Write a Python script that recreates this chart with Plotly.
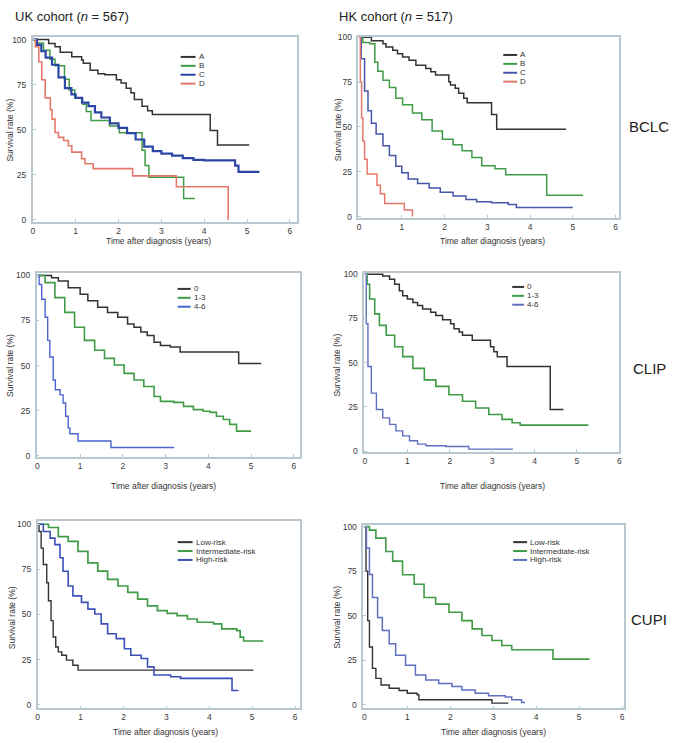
import plotly.graph_objects as go

W, H = 674, 743
FONT = "Liberation Sans, Arial, sans-serif"

# ---------------- data ----------------
# UK cohort, BCLC
uk_bclc_a_t = [0, 0.37, 0.52, 0.64, 0.91, 1.14, 1.18, 1.34, 1.52, 1.68, 1.95, 2.06, 2.18, 2.29, 2.37, 2.55, 2.68, 2.79, 4.14, 4.31, 5.05]
uk_bclc_a_s = [100, 97.8, 96, 93, 90.5, 88.7, 86.8, 83, 81, 80.4, 77.7, 75.9, 73, 70.4, 66.7, 63, 60.5, 58.4, 49.5, 41.5, 41.5]
uk_bclc_b_t = [0, 0.1, 0.25, 0.4, 0.52, 0.74, 0.85, 0.98, 1.16, 1.25, 1.36, 1.79, 2.02, 2.55, 2.62, 2.71, 3.52, 3.78]
uk_bclc_b_s = [100, 98, 94, 89, 85.5, 78, 72, 67.6, 64, 60, 55, 52, 48.3, 38.5, 30, 23.6, 11.7, 11.7]
uk_bclc_c_t = [0, 0.1, 0.2, 0.3, 0.45, 0.6, 0.75, 0.9, 1.0, 1.15, 1.3, 1.45, 1.6, 1.8, 2.0, 2.2, 2.4, 2.6, 2.8, 3.0, 3.25, 3.5, 3.75, 4.0, 4.68, 4.72, 4.8, 5.29]
uk_bclc_c_s = [100, 97, 93.5, 90, 86, 79, 73, 69.5, 67.6, 65, 63, 59.5, 56.7, 53.5, 51, 48, 44.5, 40.5, 38, 36.6, 35.5, 34.2, 33.2, 32.9, 32.9, 30, 26.5, 26.5]
uk_bclc_d_t = [0, 0.06, 0.14, 0.21, 0.29, 0.41, 0.45, 0.52, 0.6, 0.72, 0.83, 0.91, 1.14, 1.22, 1.41, 2.33, 3.35, 4.56, 4.56]
uk_bclc_d_s = [100, 96, 87.7, 77.7, 67.6, 61, 55.8, 48.4, 45.7, 43.9, 41, 37.5, 33.8, 31, 28.3, 24.3, 18.3, 18.3, 0]

# HK cohort, BCLC
hk_bclc_a_t = [0, 0.29, 0.56, 0.63, 0.79, 0.9, 1.02, 1.17, 1.33, 1.56, 1.68, 1.79, 2.1, 2.14, 2.25, 2.33, 2.45, 2.53, 3.1, 3.22, 4.84]
hk_bclc_a_s = [100, 98, 96.3, 94.5, 92.7, 90.8, 89, 87.2, 84.4, 82.6, 80.7, 78.9, 75.2, 73.4, 71.6, 68.8, 66, 63.5, 56.9, 48.7, 48.7]
hk_bclc_b_t = [0, 0.09, 0.25, 0.37, 0.44, 0.56, 0.71, 0.86, 1.02, 1.25, 1.47, 1.71, 1.95, 2.2, 2.41, 2.64, 2.87, 3.18, 3.43, 4.39, 5.24]
hk_bclc_b_s = [100, 97, 96.3, 86, 81, 76, 72, 66, 62.4, 57.8, 54, 47.7, 43.1, 40, 36.7, 33, 28.4, 26.6, 23.3, 11.9, 11.9]
hk_bclc_c_t = [0, 0.05, 0.13, 0.21, 0.29, 0.4, 0.56, 0.71, 0.86, 1.0, 1.15, 1.37, 1.64, 1.9, 2.2, 2.5, 2.75, 3.1, 3.49, 3.68, 5.0]
hk_bclc_c_s = [100, 88, 70, 59, 52, 46, 39.5, 34, 28, 24.5, 21, 18.5, 16, 13.5, 11.5, 9.5, 8.3, 7.7, 6.8, 5, 5]
hk_bclc_d_t = [0, 0.03, 0.06, 0.09, 0.13, 0.19, 0.42, 0.5, 0.6, 1.06, 1.25]
hk_bclc_d_s = [100, 75, 55, 42, 32, 23.8, 17.4, 12.8, 7.3, 3.7, 0]

# UK cohort, CLIP
uk_clip_0_t = [0, 0.33, 0.49, 0.72, 1.0, 1.18, 1.41, 1.64, 1.88, 2.11, 2.26, 2.42, 2.57, 2.73, 2.88, 3.11, 3.34, 4.71, 5.24]
uk_clip_0_s = [100, 98.7, 96.9, 93.2, 89.6, 85.9, 82.3, 79.5, 76.8, 73.1, 71.3, 68.6, 66.7, 63, 61.2, 60.3, 57.6, 51.2, 51.2]
uk_clip_13_t = [0, 0.18, 0.41, 0.64, 0.87, 1.1, 1.34, 1.57, 1.8, 2.03, 2.26, 2.49, 2.73, 2.88, 3.19, 3.42, 3.65, 3.88, 4.04, 4.19, 4.35, 4.5, 4.66, 5.0]
uk_clip_13_s = [100, 96, 87.7, 79.5, 71.3, 64, 58.5, 54, 50.3, 45.7, 42, 38.4, 32.9, 30.2, 29.6, 27.4, 25.6, 24.7, 24.1, 21.9, 20.1, 17.4, 13.7, 13.7]
uk_clip_46_t = [0, 0.04, 0.1, 0.18, 0.24, 0.29, 0.37, 0.42, 0.53, 0.6, 0.66, 0.72, 0.76, 0.95, 1.72, 3.2]
uk_clip_46_s = [100, 95, 86.8, 76.8, 64, 54.8, 42, 36.6, 33.8, 29.3, 21.9, 15.5, 12.2, 8.2, 4.6, 4.6]

# HK cohort, CLIP
hk_clip_0_t = [0, 0.42, 0.58, 0.7, 0.81, 0.89, 1.0, 1.13, 1.24, 1.36, 1.55, 1.67, 1.83, 2.02, 2.1, 2.22, 2.3, 2.53, 2.96, 3.04, 3.12, 3.35, 4.37, 4.68]
hk_clip_0_s = [100, 99, 97.2, 94.4, 90.7, 87.9, 86, 84.1, 82.3, 80.4, 78.5, 76.7, 74.3, 72, 69.2, 67.4, 65.5, 62.7, 59, 56.2, 53.4, 47.8, 23.5, 23.5]
hk_clip_13_t = [0, 0.05, 0.11, 0.23, 0.34, 0.5, 0.7, 0.89, 1.13, 1.4, 1.67, 1.98, 2.3, 2.61, 2.92, 3.23, 3.47, 3.66, 5.27]
hk_clip_13_s = [100, 94.4, 86, 77.6, 71.1, 65.5, 59, 53.4, 46.8, 40.3, 36.6, 31.9, 28.2, 24.4, 20.7, 17.9, 16, 14.7, 14.7]
hk_clip_46_t = [0, 0.03, 0.07, 0.15, 0.27, 0.42, 0.58, 0.73, 0.89, 1.05, 1.24, 1.44, 1.91, 2.45, 3.49]
hk_clip_46_s = [100, 72, 47.8, 32.8, 23.5, 18.8, 15.1, 11.4, 8.6, 5.8, 3.9, 3, 2.6, 1.1, 1.1]

# UK cohort, CUPI
uk_cupi_low_t = [0, 0.03, 0.08, 0.13, 0.21, 0.25, 0.31, 0.36, 0.42, 0.48, 0.56, 0.67, 0.82, 0.94, 5.03]
uk_cupi_low_s = [100, 96, 86.8, 77.7, 67.6, 57.6, 46.6, 37.5, 32, 29.3, 27.4, 24.7, 21.9, 19.2, 19.2]
uk_cupi_int_t = [0, 0.25, 0.48, 0.71, 0.94, 1.17, 1.4, 1.63, 1.87, 2.1, 2.33, 2.56, 2.79, 3.02, 3.25, 3.49, 3.72, 4.1, 4.29, 4.64, 4.72, 4.8, 5.26]
uk_cupi_int_s = [100, 98.2, 93.2, 90.5, 85, 78.6, 74, 69.5, 65.8, 62.2, 58.5, 54.8, 52.1, 50.6, 49.4, 47.5, 45.7, 44.8, 42, 41.1, 37.5, 35.3, 35.3]
uk_cupi_high_t = [0, 0.13, 0.29, 0.4, 0.52, 0.59, 0.71, 0.82, 1.02, 1.17, 1.33, 1.48, 1.63, 1.83, 2.02, 2.17, 2.41, 2.56, 2.71, 3.1, 3.33, 4.53, 4.68]
uk_cupi_high_s = [100, 96, 92.3, 88.7, 81.4, 74, 65.8, 60.3, 56.7, 53, 50.3, 44.8, 39.3, 36.6, 31, 27.4, 25.6, 21, 16.5, 15.5, 14.6, 7.9, 7.9]

# HK cohort, CUPI
hk_cupi_low_t = [0, 0.04, 0.08, 0.12, 0.19, 0.27, 0.39, 0.58, 0.81, 1.0, 1.23, 1.27, 2.97, 3.35]
hk_cupi_low_s = [100, 75, 47.2, 32.4, 20.4, 14.8, 11.1, 9.3, 8, 6.5, 5.6, 2.8, 0.9, 0.9]
hk_cupi_int_t = [0, 0.12, 0.27, 0.5, 0.66, 0.89, 1.16, 1.39, 1.66, 1.97, 2.27, 2.51, 2.74, 2.97, 3.2, 3.43, 4.39, 5.24]
hk_cupi_int_s = [100, 98, 93.5, 86, 80.6, 73, 67.6, 60.2, 56.5, 51.9, 47.2, 42.6, 38.9, 36.1, 33.3, 30.9, 25.6, 25.6]
hk_cupi_high_t = [0, 0.05, 0.12, 0.19, 0.31, 0.42, 0.58, 0.73, 0.96, 1.19, 1.43, 1.73, 2.04, 2.27, 2.58, 2.89, 3.28, 3.43, 3.66, 3.74]
hk_cupi_high_s = [100, 88, 73.1, 60.2, 49, 41.7, 34.3, 27.8, 22.2, 16.7, 13.9, 12, 10.2, 8.3, 6.5, 5, 4.3, 2.8, 1.3, 1.3]

x_ticks = [0, 1, 2, 3, 4, 5, 6]
y_ticks = [0, 25, 50, 75, 100]
col_titles = ["UK cohort (<i>n</i> = 567)", "HK cohort (<i>n</i> = 517)"]
row_titles = ["BCLC", "CLIP", "CUPI"]
bclc_labels = ["A", "B", "C", "D"]
clip_labels = ["0", "1-3", "4-6"]
cupi_labels = ["Low-risk", "Intermediate-risk", "High-risk"]
x_title = "Time after diagnosis (years)"
y_title = "Survival rate (%)"

# ---------------- styling ----------------
BLACK = "#333333"
GREEN = "#3f9b45"
BLUE = "#2c46a6"
RED = "#e5786a"
BOX = "#b9c7cf"
TXT = "#333333"

def px_x(v):
    return v / W

def px_y(v):
    return 1 - v / H

panels = [
    dict(box=(31, 297, 33, 220), xr=(0, 6.16), yr=(-1.1, 101.6),
         series=[(uk_bclc_a_t, uk_bclc_a_s, BLACK, 1.5), (uk_bclc_b_t, uk_bclc_b_s, GREEN, 1.5),
                 (uk_bclc_c_t, uk_bclc_c_s, BLUE, 2.2), (uk_bclc_d_t, uk_bclc_d_s, RED, 1.6)],
         labels=bclc_labels, leg=(180, 195, 197, 53.5, 9.0),
         xt=(158, 240), yt=(8, 127)),
    dict(box=(359, 622, 33, 216), xr=(-0.016, 6.09), yr=(-0.6, 100.3),
         series=[(hk_bclc_a_t, hk_bclc_a_s, BLACK, 1.5), (hk_bclc_b_t, hk_bclc_b_s, GREEN, 1.5),
                 (hk_bclc_c_t, hk_bclc_c_s, "#4656a8", 1.5), (hk_bclc_d_t, hk_bclc_d_s, RED, 1.5)],
         labels=bclc_labels, leg=(505, 519, 521, 51.5, 9.0),
         xt=(494, 240), yt=(338, 127)),
    dict(box=(35, 300, 272, 458), xr=(-0.016, 6.14), yr=(-0.7, 101.3),
         series=[(uk_clip_0_t, uk_clip_0_s, BLACK, 1.5), (uk_clip_13_t, uk_clip_13_s, GREEN, 1.6),
                 (uk_clip_46_t, uk_clip_46_s, "#4a64cc", 1.4)],
         labels=clip_labels, leg=(177, 190, 192, 288, 9.0),
         xt=(163, 487), yt=(8, 365)),
    dict(box=(365, 622, 272, 453), xr=(-0.016, 6.0), yr=(-0.6, 100.7),
         series=[(hk_clip_0_t, hk_clip_0_s, BLACK, 1.5), (hk_clip_13_t, hk_clip_13_s, GREEN, 1.6),
                 (hk_clip_46_t, hk_clip_46_s, "#5f6fc0", 1.4)],
         labels=clip_labels, leg=(514, 526, 528, 286, 9.0),
         xt=(494, 487), yt=(338, 365)),
    dict(box=(36, 300, 523, 712), xr=(0, 6.11), yr=(-2.0, 101.6),
         series=[(uk_cupi_low_t, uk_cupi_low_s, BLACK, 1.4), (uk_cupi_int_t, uk_cupi_int_s, GREEN, 1.7),
                 (uk_cupi_high_t, uk_cupi_high_s, "#3a50b8", 1.6)],
         labels=cupi_labels, leg=(177, 192, 194, 544, 9.0),
         xt=(165, 736), yt=(10, 620)),
    dict(box=(364, 627, 527, 712), xr=(-0.023, 6.05), yr=(-2.0, 100.7),
         series=[(hk_cupi_low_t, hk_cupi_low_s, BLACK, 1.4), (hk_cupi_int_t, hk_cupi_int_s, GREEN, 1.6),
                 (hk_cupi_high_t, hk_cupi_high_s, "#5f6fc0", 1.5)],
         labels=cupi_labels, leg=(515, 529, 531, 544, 9.0),
         xt=(495, 736), yt=(338, 620)),
]

fig = go.Figure()
layout = dict(width=W, height=H, margin=dict(l=0, r=0, t=0, b=0),
              paper_bgcolor="white", plot_bgcolor="white", showlegend=False,
              font=dict(family=FONT, color=TXT, size=8))
annotations = []
shapes = []

for i, p in enumerate(panels):
    n = "" if i == 0 else str(i + 1)
    l, r, t, b = p["box"]
    common = dict(showgrid=False, zeroline=False, showline=True, mirror=True,
                  linecolor=BOX, linewidth=1.5, ticks="inside", ticklen=3,
                  tickcolor=BOX, tickfont=dict(size=8.5, color="#3a3a3a", family=FONT))
    layout["xaxis" + n] = dict(domain=[px_x(l), px_x(r)], range=list(p["xr"]),
                               anchor="y" + n, tickvals=x_ticks, ticklabelstandoff=0, **common)
    layout["yaxis" + n] = dict(domain=[px_y(b), px_y(t)], range=list(p["yr"]),
                               anchor="x" + n, tickvals=y_ticks, ticklabelstandoff=3, **common)
    for (tt, ss, col, lw) in p["series"]:
        fig.add_trace(go.Scatter(x=tt, y=ss, mode="lines", line=dict(color=col, width=lw, shape="hv"),
                                 xaxis="x" + n, yaxis="y" + n, hoverinfo="skip"))
    x0, x1, xtxt, y0, dy = p["leg"]
    for k, lab in enumerate(p["labels"]):
        yy = y0 + k * dy
        col = p["series"][k][2]
        shapes.append(dict(type="line", xref="paper", yref="paper",
                           x0=px_x(x0), x1=px_x(x1), y0=px_y(yy), y1=px_y(yy),
                           line=dict(color=col, width=2)))
        annotations.append(dict(text=lab, xref="paper", yref="paper", x=px_x(xtxt), y=px_y(yy),
                                xanchor="left", yanchor="middle", showarrow=False, borderpad=0,
                                font=dict(size=8, color=TXT, family=FONT)))
    annotations.append(dict(text=x_title, xref="paper", yref="paper", x=px_x(p["xt"][0]), y=px_y(p["xt"][1]),
                            xanchor="center", yanchor="middle", showarrow=False, borderpad=0,
                            font=dict(size=8.5, color=TXT, family=FONT)))
    annotations.append(dict(text=y_title, xref="paper", yref="paper", x=px_x(p["yt"][0]), y=px_y(p["yt"][1]),
                            xanchor="center", yanchor="middle", showarrow=False, textangle=-90,
                            font=dict(size=8.5, color=TXT, family=FONT)))

# column titles
annotations.append(dict(text=col_titles[0], xref="paper", yref="paper", x=px_x(11), y=px_y(13),
                        xanchor="left", yanchor="middle", showarrow=False,
                        font=dict(size=13, color="#222222", family=FONT)))
annotations.append(dict(text=col_titles[1], xref="paper", yref="paper", x=px_x(338), y=px_y(13),
                        xanchor="left", yanchor="middle", showarrow=False,
                        font=dict(size=13, color="#222222", family=FONT)))
# row titles
for lab, yc in zip(row_titles, [124, 368, 622]):
    annotations.append(dict(text=lab, xref="paper", yref="paper", x=px_x(652), y=px_y(yc),
                            xanchor="center", yanchor="middle", showarrow=False,
                            font=dict(size=15, color="#222222", family=FONT)))

layout["annotations"] = annotations
layout["shapes"] = shapes
fig.update_layout(**layout)
fig.write_html("out.html")
